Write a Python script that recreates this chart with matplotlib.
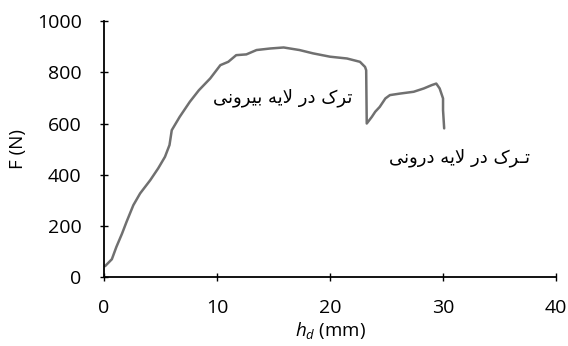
import matplotlib.pyplot as plt

# displacement (mm) and force (N)
hd = [0.1, 0.7, 1.1, 1.6, 2.0, 2.6, 3.2, 4.1, 4.8, 5.4, 5.8, 6.0, 6.7, 7.6, 8.4, 9.4,
      10.3, 11.0, 11.7, 12.6, 13.5, 14.7, 15.9, 17.3, 18.5, 20.0, 21.5, 22.65, 23.1,
      23.2, 23.25, 23.7, 24.0, 24.4, 24.9, 25.3, 26.2, 27.4, 28.3, 29.0, 29.4, 29.7,
      30.0, 30.0, 30.1]
force = [43, 70, 118, 170, 216, 281, 327, 379, 425, 470, 516, 574, 626, 685, 730, 776,
         828, 841, 867, 870, 887, 893, 897, 887, 874, 861, 854, 841, 821,
         808, 600, 626, 646, 665, 698, 711, 717, 724, 737, 750, 756, 737,
         698, 652, 581]

label_outer = 'ترک در لایه بیرونی'
label_inner = 'تـرک در لایه درونی'

FORMS = {
    'ت': (0xFE95, 0xFE96, 0xFE97, 0xFE98),
    'ب': (0xFE8F, 0xFE90, 0xFE91, 0xFE92),
    'ن': (0xFEE5, 0xFEE6, 0xFEE7, 0xFEE8),
    'ی': (0xFBFC, 0xFBFD, 0xFBFE, 0xFBFF),
    'ک': (0xFB8E, 0xFB8F, 0xFB90, 0xFB91),
    'ه': (0xFEE9, 0xFEEA, 0xFEEB, 0xFEEC),
    'ل': (0xFEDD, 0xFEDE, 0xFEDF, 0xFEE0),
    'ر': (0xFEAD, 0xFEAE),
    'د': (0xFEA9, 0xFEAA),
    'و': (0xFEED, 0xFEEE),
    'ا': (0xFE8D, 0xFE8E),
    '\ufefb': (0xFEFB, 0xFEFC),
}
TATWEEL = '\u0640'


def shape(s):
    # minimal Persian shaping + reversal for matplotlib (no bidi support)
    s = s.replace('لا', '\ufefb')
    out = []
    for i, c in enumerate(s):
        if c not in FORMS:
            out.append(c)
            continue
        prev = s[i - 1] if i > 0 else ' '
        nxt = s[i + 1] if i + 1 < len(s) else ' '
        jp = (prev in FORMS and len(FORMS[prev]) == 4) or prev == TATWEEL
        jn = nxt in FORMS or nxt == TATWEEL
        f = FORMS[c]
        if len(f) == 4:
            idx = 3 if (jp and jn) else 1 if jp else 2 if jn else 0
        else:
            idx = 1 if jp else 0
        out.append(chr(f[idx]))
    return ''.join(out)[::-1]


plt.rcParams['font.family'] = ['Open Sans', 'DejaVu Sans']
plt.rcParams['mathtext.fontset'] = 'custom'
plt.rcParams['mathtext.it'] = 'Open Sans:italic'

fig = plt.figure(figsize=(5.68, 3.46), dpi=100)
ax = fig.add_axes([0.183, 0.199, 0.796, 0.740])

ax.plot(hd, force, color='#707070', linewidth=1.8,
        solid_joinstyle='round', solid_capstyle='round')

ax.set_xlim(0, 40)
ax.set_ylim(0, 1000)
ax.set_xticks([0, 10, 20, 30, 40])
ax.set_yticks([0, 200, 400, 600, 800, 1000])
ax.spines['top'].set_visible(False)
ax.spines['right'].set_visible(False)
for s in ['left', 'bottom']:
    ax.spines[s].set_linewidth(1.3)
ax.tick_params(direction='inout', length=6, width=1, labelsize=14)
ax.tick_params(axis='y', pad=13)
ax.tick_params(axis='x', pad=13)
ax.set_xlabel('$h_d$ (mm)', fontsize=13.5, labelpad=2)
ax.set_ylabel('F (N)', fontsize=13.5, labelpad=7)

ax.text(15.8, 700, shape(label_outer), family='DejaVu Sans', fontsize=13,
        ha='center', va='center')
ax.text(31.5, 465, shape(label_inner), family='DejaVu Sans', fontsize=13,
        ha='center', va='center')

fig.savefig('out.png', dpi=100)
